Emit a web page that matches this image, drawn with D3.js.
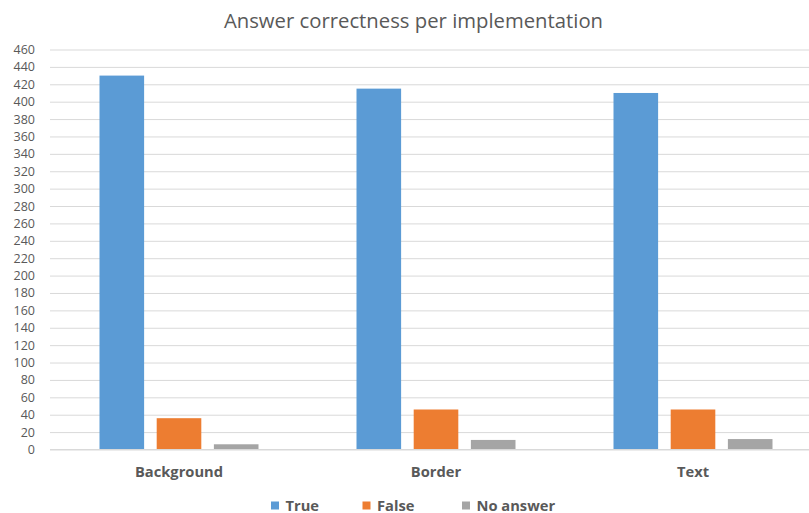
<!DOCTYPE html>
<html><head><meta charset="utf-8">
<script src="https://cdn.jsdelivr.net/npm/d3@7"></script>
<style>body{margin:0;background:#fff}svg{display:block}text{font-family:"Open Sans",sans-serif;fill:#595959}</style>
</head><body>
<svg id="c" width="809" height="513"></svg>
<script>
const categories = ["Background", "Border", "Text"];
const seriesNames = ["True", "False", "No answer"];
const trueVals = [430, 415, 410];
const falseVals = [36, 46, 46];
const noAnswerVals = [6, 11, 12];
const yTicks = d3.range(0, 461, 20);
const colors = ["#5B9BD5", "#ED7D31", "#A5A5A5"];

const series = [trueVals, falseVals, noAnswerVals];
const svg = d3.select("#c");
const x = d3.scaleBand().domain(categories).range([50.5, 821.5]).paddingInner(0).paddingOuter(0);
const xi = d3.scaleBand().domain(seriesNames).range([49, 257 - 49]).paddingInner(0.22);
const y = d3.scaleLinear().domain([0, 460]).range([449.5, 49.5]);

svg.append("text").attr("x", 413.5).attr("y", 27.5).attr("text-anchor", "middle")
  .style("font-size", "20.3px").text("Answer correctness per implementation");

const yAxis = d3.axisLeft(y).tickValues(yTicks).tickSize(-(809 - 50)).tickPadding(15);
const ga = svg.append("g").attr("transform", "translate(50,0)").call(yAxis);
ga.select(".domain").remove();
ga.selectAll(".tick line").attr("stroke", "#D9D9D9").attr("stroke-width", 1);
ga.selectAll(".tick text").style("font-size", "12.5px").style("fill", "#595959").attr("x", -15);

const g = svg.append("g");
categories.forEach((c, ci) => {
  series.forEach((s, si) => {
    g.append("rect")
      .attr("x", x(c) + xi(seriesNames[si]))
      .attr("width", xi.bandwidth())
      .attr("y", y(s[ci]))
      .attr("height", y(0) - y(s[ci]))
      .attr("fill", colors[si]);
  });
});

const xAxis = d3.axisBottom(x).tickSize(0).tickPadding(17.5);
const gx = svg.append("g").attr("transform", "translate(0,449.5)").call(xAxis);
gx.select(".domain").attr("stroke", "#D9D9D9").attr("d", "M50,0H809");
gx.selectAll(".tick text").style("font-size", "14.7px").style("font-weight", "bold").style("fill", "#595959");

const legendX = [271, 362.5, 462];
const lg = svg.append("g");
seriesNames.forEach((n, i) => {
  lg.append("rect").attr("x", legendX[i]).attr("y", 501.5).attr("width", 8).attr("height", 8).attr("fill", colors[i]);
  lg.append("text").attr("x", legendX[i] + 14.5).attr("y", 510.5).style("font-size", "14.7px").style("font-weight", "bold").text(n);
});
</script>
</body></html>
